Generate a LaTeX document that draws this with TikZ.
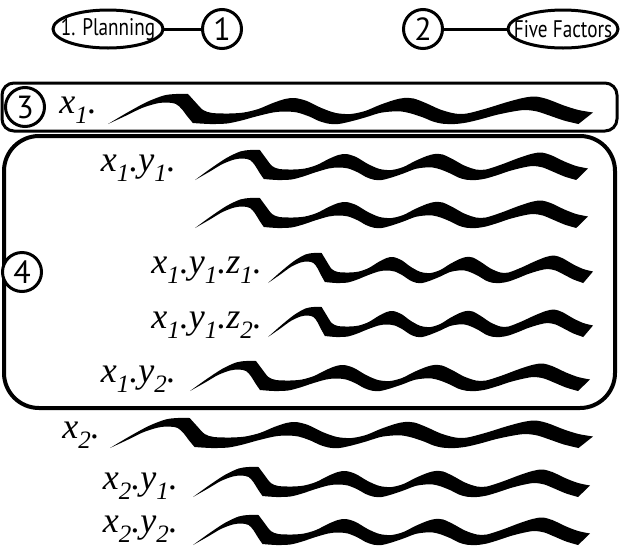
\documentclass[tikz,border=0pt]{standalone}
\usepackage{fontspec}
\usetikzlibrary{shapes.geometric}
\setmainfont{Liberation Serif}
\newfontfamily\headfont{PT Sans}[FakeStretch=0.8]
\newfontfamily\digitfont{PT Sans}
\newcommand\sbs[1]{\raisebox{-0.28em}{\fontsize{25}{25}\selectfont #1}}
\newcommand\lbl[1]{{\fontsize{36}{36}\selectfont\itshape #1}}
\tikzset{
  squiggle/.pic={
    \fill[black, yscale=-1]
      plot[smooth, tension=0.5] coordinates {(0,0) (4,11.5) (8,22) (11.5,28.5) (14,30) (16.5,30)}
      -- plot[smooth, tension=0.5] coordinates {(16.5,30) (18,22) (19.6,14) (21.5,11) (25,10.5) (28,11.5) (31,15) (34,21) (36.5,25) (38.5,26) (41,23) (44,16) (47,11) (50,10) (53,13) (56,19) (59,24) (61,26) (63,25.5) (65.5,21) (68.5,14.5) (71.5,10.5) (74,10.5) (78,15.5) (82,21.5) (85.5,26) (88,27.5) (90.5,25) (94,18.5) (97,14) (100,11.5)}
      -- plot[smooth, tension=0.5] coordinates {(97,0) (94,3.5) (91,8.5) (88.5,12.5) (86,14) (83.5,12.5) (80,9) (77,5) (74,1.5) (71.5,0) (69,0.3) (67,2.5) (65,6.5) (62.5,10.5) (60.5,12.5) (58.5,12.5) (56,11) (53,6.5) (50,2.5) (47.5,0) (45.5,0.3) (43.5,3) (41.5,7.5) (39,11.5) (36.5,12.5) (34,11.5) (30.5,7.5) (27.5,3.5) (24.5,0.5) (21,0) (17.5,1)}
      -- plot[smooth, tension=0.5] coordinates {(17.5,1) (16.3,8) (15.2,15) (14,20) (12.2,21.5) (10,20.5) (7,16) (4,9) (0,0)}
      -- cycle;
  },
  numcirc/.style={circle, draw, fill=white, line width=3pt, minimum size=39pt, inner sep=0pt,
    font=\digitfont\fontsize{32}{32}\selectfont},
  headtxt/.style={rectangle, minimum width=110pt, minimum height=38pt, inner sep=0pt,
    font=\headfont\fontsize{24}{24}\selectfont},
  headell/.style={line width=3pt},
  conn/.style={line width=3pt},
  lab/.style={anchor=base east, inner sep=0pt},
}
\begin{document}
\begin{tikzpicture}[x=1pt, y=-1pt]
\useasboundingbox (0,0) rectangle (621,547);
% header
\node[headtxt] (e1) at (108,29) {\makebox[0pt]{1. Planning}};
\draw[headell] (e1.center) ellipse [x radius=55, y radius=19];
\node[numcirc] (c1) at (222,29) {1};
\node[numcirc] (c2) at (423,29) {2};
\node[headtxt] (e2) at (563,29) {\makebox[0pt]{Five Factors}};
\draw[headell] (e2.center) ellipse [x radius=55, y radius=19];
\draw[conn] (e1.east) -- (c1);
\draw[conn] (c2) -- (e2.west);
% boxes
\draw[line width=3pt, rounded corners=12pt] (2,83) rectangle (617,131);
\draw[line width=4pt, rounded corners=35pt] (4,136) rectangle (615,408);
\node[numcirc] (c3) at (25,107) {3};
\node[numcirc] (c4) at (22,272) {4};
% labels
\node[lab] (l1) at (97,113) {\lbl{x\sbs{1}.}};
\node[lab] (l2) at (176,171) {\lbl{x\sbs{1}.y\sbs{1}.}};
\node[lab] (l4) at (262,273) {\lbl{x\sbs{1}.y\sbs{1}.z\sbs{1}.}};
\node[lab] (l5) at (262,328) {\lbl{x\sbs{1}.y\sbs{1}.z\sbs{2}.}};
\node[lab] (l6) at (176,382) {\lbl{x\sbs{1}.y\sbs{2}.}};
\node[lab] (l7) at (100,438) {\lbl{x\sbs{2}.}};
\node[lab] (l8) at (178,489) {\lbl{x\sbs{2}.y\sbs{1}.}};
\node[lab] (l9) at (178,532) {\lbl{x\sbs{2}.y\sbs{2}.}};
% squiggles
\pic[xscale=4.85] at (108,124) {squiggle};
\pic[xscale=3.93] at (195,180) {squiggle};
\pic[xscale=3.93] at (195,228) {squiggle};
\pic[xscale=3.25] at (268,283) {squiggle};
\pic[xscale=3.25] at (268,337) {squiggle};
\pic[xscale=4.00] at (190,391) {squiggle};
\pic[xscale=4.83] at (110,448) {squiggle};
\pic[xscale=3.97] at (193,497) {squiggle};
\pic[xscale=3.97] at (193,545) {squiggle};
\end{tikzpicture}
\end{document}
